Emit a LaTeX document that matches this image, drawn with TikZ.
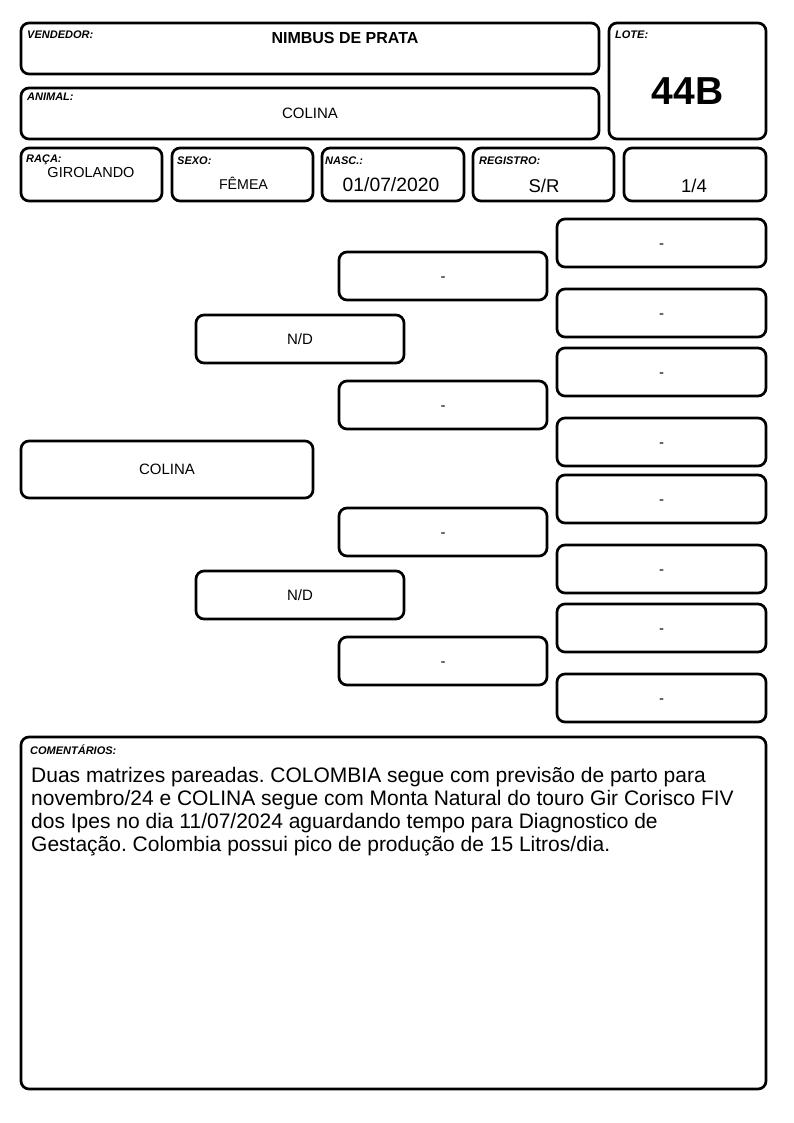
\documentclass[tikz,border=0pt]{standalone}
\usepackage{fontspec}
\setmainfont{Liberation Sans}
\frenchspacing
\newcommand\fsz[1]{\fontsize{#1}{#1}\selectfont}
\newcommand\bx[6]{\node[box,minimum width={(#4-#2)*1pt},minimum height={(#5-#3)*1pt}] (#1) at ({(#2+#4)/2},{(#3+#5)/2}) {#6};}
\tikzset{
  box/.style={draw=black,line width=2.7pt,rounded corners=8pt,inner sep=0pt,outer sep=0pt,font=\fsz{15},text height=10.7pt,text depth=0pt},
  lab/.style={anchor=north west,inner sep=0pt,font=\fsz{11}\bfseries\itshape},
  val/.style={inner sep=0pt,anchor=center},
  cline/.style={anchor=base west,inner sep=0pt,font=\fsz{21}}
}
\begin{document}
\begin{tikzpicture}[x=1pt,y=-1pt]
\useasboundingbox[fill=white] (0,0) rectangle (794,1123);
% header
\bx{vend}{21}{23}{599}{74}{}
\bx{anim}{21}{88}{599}{139}{}
\bx{lote}{609}{23}{766}{139}{}
\bx{raca}{21}{148}{162}{201}{}
\bx{sexo}{172}{148}{313}{201}{}
\bx{nasc}{322}{148}{464}{201}{}
\bx{regi}{473}{148}{614}{201}{}
\bx{frac}{624}{148}{766}{201}{}
\node[lab] (lvend) at (27,31) {VENDEDOR:};
\node[lab] (lanim) at (27,93) {ANIMAL:};
\node[lab] (llote) at (615,31) {LOTE:};
\node[lab] (lraca) at (26,155) {RAÇA:};
\node[lab] (lsexo) at (177,157) {SEXO:};
\node[lab] (lnasc) at (325,157) {NASC.:};
\node[lab] (lregi) at (479,157) {REGISTRO:};
\node[val,font=\fsz{16}\bfseries] (tvend) at (345,37.5) {NIMBUS DE PRATA};
\node[val,font=\fsz{15}] (tanim) at (310,113) {COLINA};
\node[val,font=\fsz{39}\bfseries] (tlote) at (687.5,91) {44B};
\node[val,font=\fsz{14.5}] (traca) at (91,172.5) {GIROLANDO};
\node[val,font=\fsz{14.2}] (tsexo) at (243.5,183.5) {FÊMEA};
\node[val,font=\fsz{19.3}] (tnasc) at (391,185) {01/07/2020};
\node[val,font=\fsz{18.5}] (tregi) at (544,186) {S/R};
\node[val,font=\fsz{18.5}] (tfrac) at (694,186) {1/4};
% pedigree
\bx{an}{21}{441}{313}{498}{COLINA}
\bx{p1}{196}{315}{404}{363}{N/D}
\bx{p2}{196}{571}{404}{619}{N/D}
\bx{g1}{339}{252}{547}{300}{-}
\bx{g2}{339}{381}{547}{429}{-}
\bx{g3}{339}{508}{547}{556}{-}
\bx{g4}{339}{637}{547}{685}{-}
\bx{b1}{557}{219}{766}{267}{-}
\bx{b2}{557}{289}{766}{337}{-}
\bx{b3}{557}{348}{766}{396}{-}
\bx{b4}{557}{418}{766}{466}{-}
\bx{b5}{557}{475}{766}{523}{-}
\bx{b6}{557}{545}{766}{593}{-}
\bx{b7}{557}{604}{766}{652}{-}
\bx{b8}{557}{674}{766}{722}{-}
% comments
\bx{com}{21}{737}{766}{1089}{}
\node[lab] (lcom) at (30,745) {COMENTÁRIOS:};
\node[cline] (c1) at (31,782) {Duas matrizes pareadas. COLOMBIA segue com previsão de parto para};
\node[cline] (c2) at (31,805) {novembro/24 e COLINA segue com Monta Natural do touro Gir Corisco FIV};
\node[cline] (c3) at (31,828) {dos Ipes no dia 11/07/2024 aguardando tempo para Diagnostico de};
\node[cline] (c4) at (31,851) {Gestação. Colombia possui pico de produção de 15 Litros/dia.};
\end{tikzpicture}
\end{document}
